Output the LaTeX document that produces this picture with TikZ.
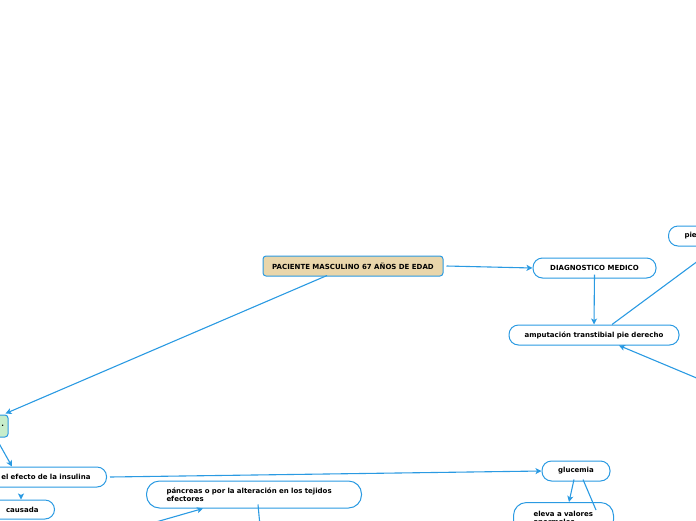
\documentclass[tikz,border=0pt]{standalone}
\usepackage{fontspec}
\setmainfont{DejaVu Sans}[BoldFont={DejaVu Sans Bold}]
\usetikzlibrary{arrows.meta,calc}
\definecolor{lineblue}{HTML}{2A9AE2}
\definecolor{rootfill}{HTML}{E9D6AB}
\definecolor{greenfill}{HTML}{C7EDCB}
\tikzset{
  base/.style={draw=lineblue, line width=1pt, font=\fontsize{7}{8}\selectfont\bfseries, inner ysep=2pt, minimum height=20pt},
  pill/.style={base, fill=white, rounded corners=9.5pt},
  rootbox/.style={base, fill=rootfill, rounded corners=3pt},
  greenbox/.style={base, fill=greenfill, rounded corners=3pt},
  conn/.style={draw=lineblue, line width=1.1pt},
  arr/.style={conn, -{Stealth[length=6pt,width=6pt,inset=1.5pt]}},
}
\begin{document}
\begin{tikzpicture}[x=1pt,y=-1pt]
\useasboundingbox (0,0) rectangle (696,520);
% nodes
\node[rootbox, minimum width=180pt] (root) at (353,266) {PACIENTE MASCULINO 67 AÑOS DE EDAD};
\node[pill, minimum width=123pt] (diag) at (594.5,268) {DIAGNOSTICO MEDICO};
\node[pill, minimum width=170pt] (amp) at (594,335) {amputación transtibial pie derecho};
\node[pill, anchor=west, text width=66pt, align=left, inner xsep=16pt] (pie) at (668,236) {pie};
\node[greenbox, minimum width=28pt, minimum height=22pt, align=right, text width=20pt, inner xsep=4pt] (green) at (-6,426) {.};
\node[pill, anchor=east, text width=100pt, align=right, inner xsep=16pt] (efecto) at (107,477) {el efecto de la insulina};
\node[pill, anchor=east, text width=60pt, align=right, inner xsep=16pt, minimum height=19pt] (causada) at (55,509.5) {causada};
\node[pill, anchor=west, text width=175pt, align=left, inner xsep=20pt, minimum height=27pt, rounded corners=13pt] (pancreas) at (146,494.5) {páncreas o por la alteración en los tejidos\\efectores};
\node[pill, minimum width=68pt] (gluc) at (576,471) {glucemia};
\node[pill, anchor=north west, text width=60pt, align=left, inner xsep=20pt, inner ysep=8.5pt, minimum height=0pt, rounded corners=13pt] (eleva) at (513,502) {eleva a valores\\anormales};
% free ends
\coordinate (offA) at (730,392);
\coordinate (offB) at (142,526);
\coordinate (offC) at (260,526);
\coordinate (offD) at (596,510);
% connectors
\draw[arr] ([xshift=3pt]root.east) -- (diag.west);
\draw[arr] ([yshift=4pt]diag.south) -- (amp.north);
\draw[conn] ([xshift=18pt]amp.north) -- (pie.south);
\draw[arr] (offA) -- ([xshift=25pt]amp.south);
\draw[arr] ([xshift=-26pt,yshift=1pt]root.south) -- ([xshift=-3pt,yshift=1pt]green.north east);
\draw[arr] ([yshift=3pt]green.south) -- ([xshift=-95pt]efecto.north east);
\draw[arr] ([xshift=3pt]efecto.east) -- (gluc.west);
\draw[arr] ([xshift=-34pt,yshift=3pt]causada.north east) -- ([xshift=-34pt]causada.north east);
\draw[arr] (offB) -- ([xshift=-51pt]pancreas.south);
\draw[conn] ([xshift=4pt,yshift=4pt]pancreas.south) -- (offC);
\draw[arr] ([xshift=-2pt,yshift=2pt]gluc.south) -- ([xshift=56pt]eleva.north west);
\draw[conn] ([xshift=7pt,yshift=2pt]gluc.south) -- (offD);
\end{tikzpicture}
\end{document}
